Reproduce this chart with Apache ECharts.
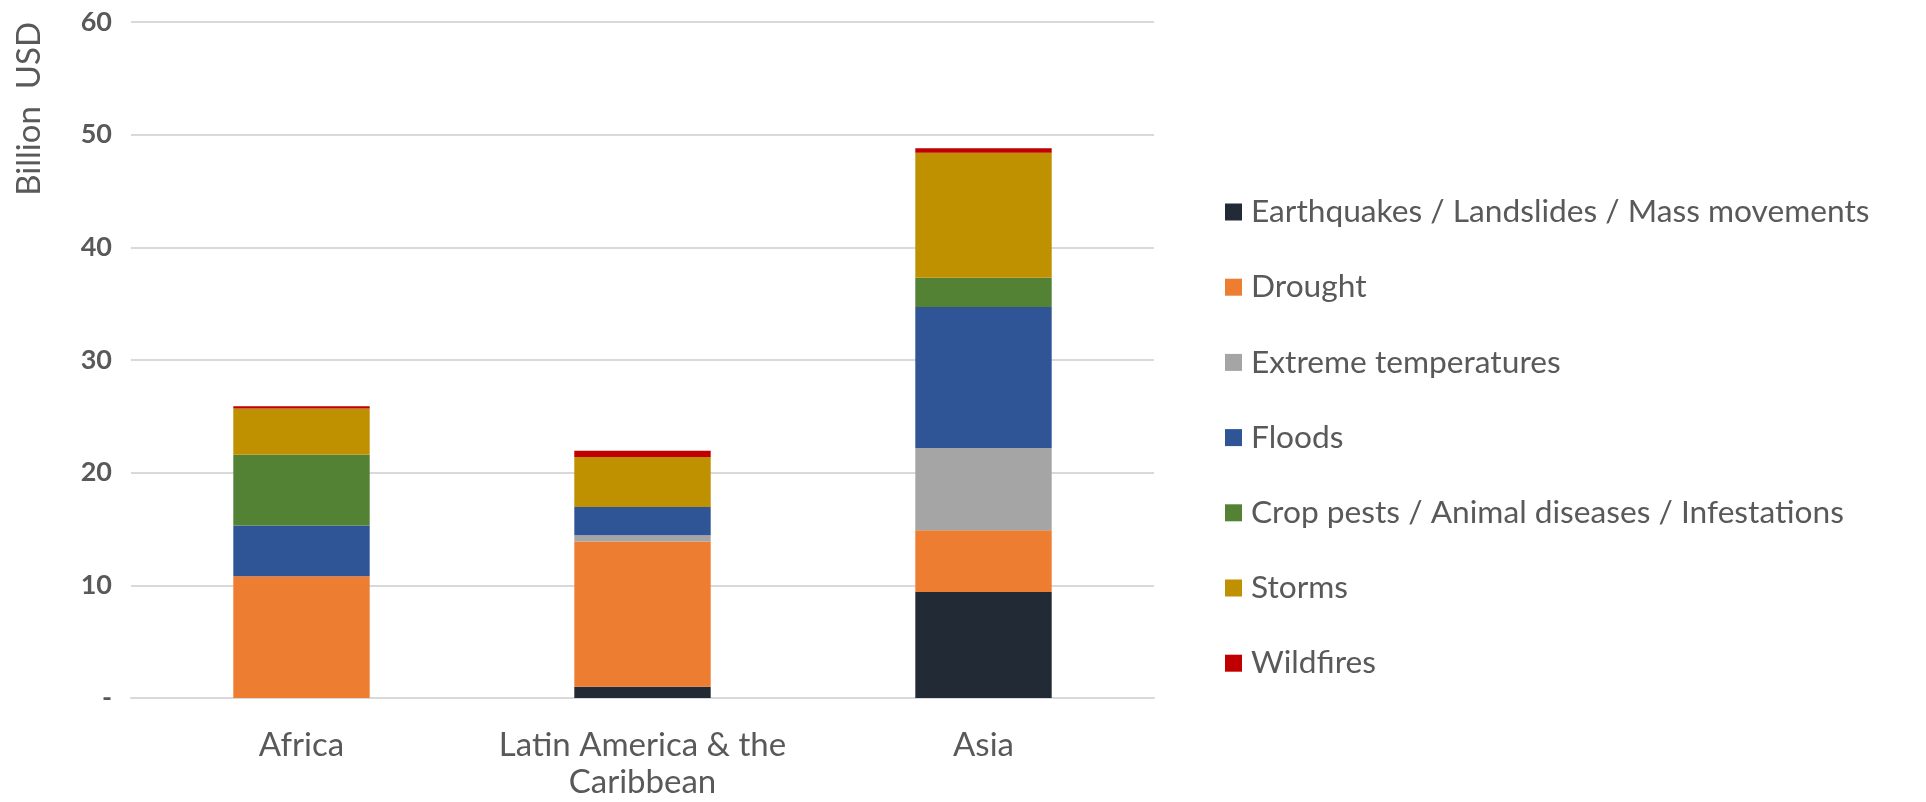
<!DOCTYPE html>
<html><head><meta charset="utf-8">
<script src="https://cdn.jsdelivr.net/npm/echarts@6/dist/echarts.min.js"></script>
<style>html,body{margin:0;padding:0;background:#fff}#c{width:1926px;height:802px}</style>
</head><body><div id="c"></div>
<script>
const categories = ['Africa', 'Latin America & the Caribbean', 'Asia'];
const seriesNames = ['Earthquakes / Landslides / Mass movements', 'Drought', 'Extreme temperatures', 'Floods', 'Crop pests / Animal diseases / Infestations', 'Storms', 'Wildfires'];
const earthquakes = [0, 1.0, 9.4];
const drought = [10.8, 12.9, 5.5];
const extremeTemps = [0, 0.55, 7.3];
const floods = [4.5, 2.5, 12.5];
const cropPests = [6.3, 0, 2.6];
const storms = [4.1, 4.45, 11.1];
const wildfires = [0.2, 0.55, 0.4];
const yTicks = [0, 10, 20, 30, 40, 50, 60];
const colors = ['#222a35', '#ed7d31', '#a5a5a5', '#2f5597', '#548235', '#bf9000', '#c00000'];
const values = [earthquakes, drought, extremeTemps, floods, cropPests, storms, wildfires];

const FONT = 'Lato';
const chart = echarts.init(document.getElementById('c'));
chart.setOption({
  animation: false,
  color: colors,
  grid: { left: 131, right: 772, top: 22, bottom: 104 },
  legend: {
    orient: 'vertical', left: 1220, top: 191,
    itemWidth: 17, itemHeight: 17, itemGap: 43.2,
    icon: 'rect',
    data: seriesNames,
    textStyle: { fontFamily: FONT, fontSize: 31.7, color: '#595959', lineHeight: 32, padding: [0, 0, 0, 4] }
  },
  graphic: [{
    type: 'text', left: 13, top: 22, rotation: Math.PI / 2,
    style: { text: 'Billion  USD', font: '33px ' + FONT, fill: '#595959' }
  }],
  xAxis: {
    type: 'category', data: categories,
    axisLine: { lineStyle: { color: '#d9d9d9', width: 2 } },
    axisTick: { show: false },
    axisLabel: {
      interval: 0, hideOverlap: false,
      fontFamily: FONT, fontSize: 33, color: '#595959', margin: 29, lineHeight: 37,
      formatter: v => v.replace(' the Caribbean', ' the\nCaribbean')
    }
  },
  yAxis: {
    type: 'value', min: 0, max: 60, interval: 10,
    axisLine: { show: false }, axisTick: { show: false },
    splitLine: { lineStyle: { color: '#d9d9d9', width: 2 } },
    axisLabel: {
      fontFamily: FONT, fontSize: 27, fontWeight: 'bold', color: '#595959', margin: 19,
      formatter: v => yTicks.includes(v) ? (v === 0 ? '-' : String(v)) : ''
    }
  },
  series: seriesNames.map((n, i) => ({
    name: n, type: 'bar', stack: 'total', barWidth: '40%',
    data: values[i],
    itemStyle: { color: colors[i] }
  }))
});
</script></body></html>
